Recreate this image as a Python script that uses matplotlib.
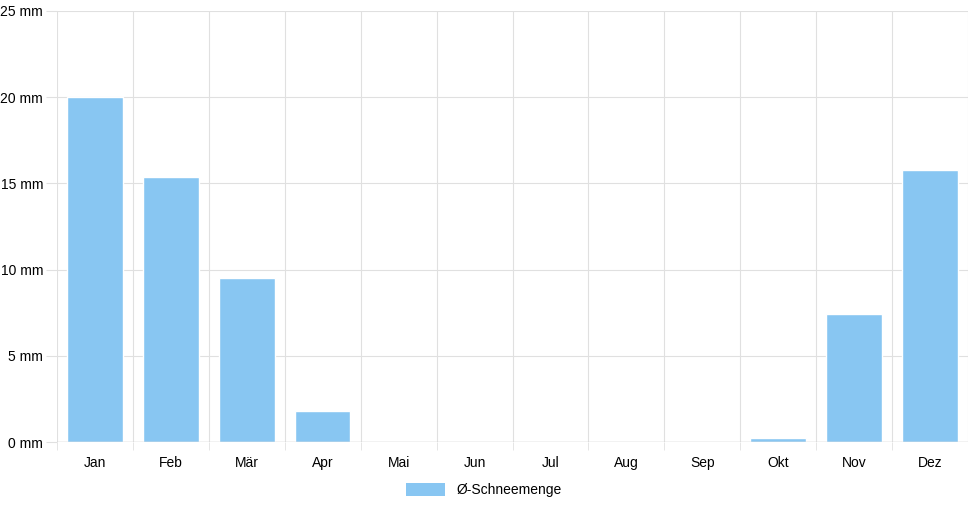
import matplotlib
matplotlib.use("Agg")
import matplotlib.pyplot as plt
from matplotlib.patches import Patch

# monthly average snow depth
months = ["Jan", "Feb", "Mär", "Apr", "Mai", "Jun", "Jul", "Aug", "Sep", "Okt", "Nov", "Dez"]
snow_mm = [20.0, 15.4, 9.5, 1.8, 0, 0, 0, 0, 0, 0.25, 7.4, 15.8]
y_ticks = [0, 5, 10, 15, 20, 25]
y_labels = ["0 mm", "5 mm", "10 mm", "15 mm", "20 mm", "25 mm"]

plt.rcParams["font.family"] = "Liberation Sans"
fig = plt.figure(figsize=(9.68, 5.08), dpi=100)
ax = fig.add_axes([57 / 968, 1 - 442 / 508, 911 / 968, 431 / 508])

bar_color = "#88c6f2"
ax.bar(range(len(months)), snow_mm, width=0.73, color=bar_color, edgecolor="white", linewidth=1, zorder=3)

ax.set_xlim(-0.5, len(months) - 0.5)
ax.set_ylim(0, 25)
ax.set_yticks(y_ticks)
ax.set_yticklabels(y_labels, fontsize=10)
ax.set_xticks(range(len(months)))
ax.set_xticklabels(months, fontsize=10)
ax.set_xticks([i - 0.5 for i in range(len(months) + 1)], minor=True)

ax.grid(False)
for t in y_ticks:
    ax.axhline(t, color="#e0e0e0", linewidth=0.8, zorder=0)
for i in range(len(months) + 1):
    ax.axvline(i - 0.5, color="#e0e0e0", linewidth=0.8, zorder=0)

for s in ax.spines.values():
    s.set_visible(False)
ax.axhline(0, color="#c8c8c8", linewidth=1, zorder=4)
ax.tick_params(axis="x", which="major", length=0, pad=10)
ax.tick_params(axis="x", which="minor", length=6, color="#e0e0e0")
ax.tick_params(axis="y", length=8, color="#e0e0e0", pad=2)

fig.legend(handles=[Patch(facecolor=bar_color, label="Ø-Schneemenge")],
           loc="center", bbox_to_anchor=(0.5, 1 - 490 / 508), frameon=False,
           fontsize=10, handlelength=2.8, handleheight=1.1)

fig.savefig("out.png", dpi=100)
